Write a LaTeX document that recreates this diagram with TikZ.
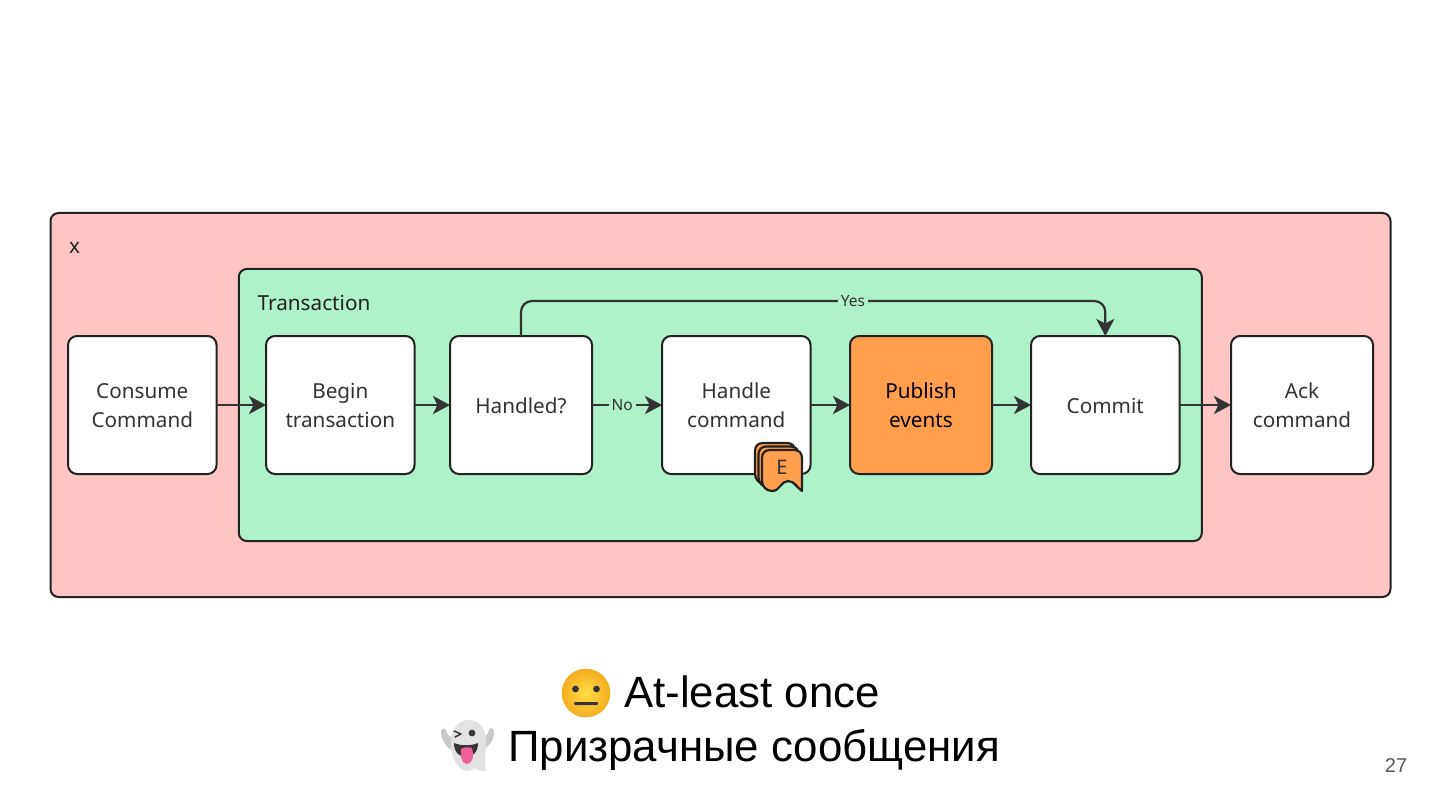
\documentclass[tikz,border=0pt]{standalone}
\usepackage{fontspec}
\setmainfont{Noto Sans}
\newfontfamily\slidefont{Liberation Sans}
\usetikzlibrary{arrows.meta,shadings}
\definecolor{ink}{HTML}{222222}
\definecolor{txt}{HTML}{333333}
\definecolor{pinkbg}{HTML}{FFC4C4}
\definecolor{greenbg}{HTML}{ADF2C8}
\definecolor{orangebg}{HTML}{FF9F4D}
\definecolor{linecol}{HTML}{333333}
\definecolor{faceIn}{HTML}{FFDD45}
\definecolor{faceOut}{HTML}{F4AE20}
\definecolor{ghostBody}{HTML}{E2E2E2}
\definecolor{ghostArm}{HTML}{C9C9C9}
\definecolor{ghostDark}{HTML}{3A3436}
\definecolor{tongue}{HTML}{F0609A}
\newcommand{\lin}{\rule[-4.6pt]{0pt}{25.5pt}}
\tikzset{
  container/.style={draw=ink,line width=2pt,rounded corners=8pt,anchor=north west,inner sep=0pt,outer sep=0pt},
  stepbox/.style={draw=ink,line width=2pt,rounded corners=9pt,fill=white,text=txt,align=center,
    font=\fontsize{20.7}{29}\selectfont,inner sep=0pt,outer sep=0pt,minimum height=138pt},
  wide/.style={minimum width=148.5pt},
  narrow/.style={minimum width=142pt},
  flow/.style={draw=linecol,line width=2.2pt,-{Stealth[length=17pt,width=18pt,inset=4.5pt]}},
  edgelabel/.style={fill=greenbg,text=txt,font=\fontsize{15.5}{18}\selectfont,inner sep=3pt},
  card/.style={draw=ink,line width=2.2pt,fill=orangebg,line join=round},
  grouplabel/.style={text=ink,font=\fontsize{20.7}{24}\selectfont,anchor=base west,inner sep=0pt},
  slide/.style={text=black,font=\slidefont\fontsize{43.8}{50}\selectfont,anchor=base west,inner sep=0pt},
}
\begin{document}
\begin{tikzpicture}[x=1pt,y=-1pt]
\useasboundingbox (0,0) rectangle (1440,810);
\fill[white] (0,0) rectangle (1440,810);

\node[container,fill=pinkbg,minimum width=1340pt,minimum height=384pt] (outer) at (50.5,213) {};
\node[container,fill=greenbg,minimum width=963pt,minimum height=272pt] (inner) at (238.8,269) {};
\node[grouplabel] (xlabel) at (69,254) {x};
\node[grouplabel] (txlabel) at (257.5,310) {Transaction};

\node[stepbox,wide] (consume) at (142.3,405) {\lin Consume\\\lin Command};
\node[stepbox,wide] (begin) at (340.3,405) {\lin Begin\\\lin transaction};
\node[stepbox,narrow] (handled) at (521,405) {\lin Handled?};
\node[stepbox,wide] (handle) at (736.3,405) {\lin Handle\\\lin command};
\node[stepbox,narrow,fill=orangebg,text=black] (publish) at (921,405) {\lin Publish\\\lin events};
\node[stepbox,wide] (commit) at (1105.3,405) {\lin Commit};
\node[stepbox,narrow] (ack) at (1302,405) {\lin Ack\\\lin command};

\draw[flow] (consume) -- (begin);
\draw[flow] (begin) -- (handled);
\draw[flow] (handled) -- node[edgelabel,pos=0.43] (nolabel) {No} (handle);
\draw[flow] (handle) -- (publish);
\draw[flow] (publish) -- (commit);
\draw[flow] (commit) -- (ack);
\draw[flow,rounded corners=11pt] (handled.north) -- ++(0,-35) -| node[edgelabel,pos=0.284] (yeslabel) {Yes} (commit.north);

% stacked event cards
\foreach \d in {7,3.5,0}{
  \path[card,shift={(-\d,-\d)}] (762,458)
    .. controls (762,453) and (765,450) .. (770,450)
    -- (794,450)
    .. controls (799,450) and (802,453) .. (802,458)
    -- (802,491)
    .. controls (797,488) and (795,481) .. (788,481)
    .. controls (781,481) and (780,491) .. (772,491)
    .. controls (766,491) and (762,486) .. (762,481)
    -- cycle;
}
\node[text=txt,font=\fontsize{20}{24}\selectfont,inner sep=0pt] (elabel) at (782,467) {E};

% neutral face emoji
\shade[inner color=faceIn,outer color=faceOut] (586,693) circle (24.3);
\fill[ghostDark] (575.5,689) circle (3.4) (596.5,689) circle (3.4);
\fill[ghostDark,rounded corners=1pt] (574,702) rectangle (598,705);
\node[slide] (line1) at (624,707) {At-least once};

% ghost emoji
\fill[ghostArm] (453,751) .. controls (447,748) and (441,740) .. (441,732)
  .. controls (441,729) and (444,727) .. (446,730)
  .. controls (447,734) and (449,737) .. (454,738) -- cycle;
\fill[ghostArm] (483,749) .. controls (489,747) and (494,740) .. (494,732)
  .. controls (494,728) and (491,727) .. (489,730)
  .. controls (488,734) and (486,737) .. (482,738) -- cycle;
\fill[ghostBody] (451,742) .. controls (451,728) and (459,720) .. (469,720)
  .. controls (480,720) and (486,729) .. (486,742)
  .. controls (486,752) and (484,762) .. (486,771)
  .. controls (480,772) and (477,769) .. (474,768)
  .. controls (470,772) and (466,772) .. (462,769)
  .. controls (455,765) and (451,756) .. (451,742) -- cycle;
\draw[ghostDark,line width=1.4pt,line cap=round,line join=round] (454,731) -- (461,734) -- (455,737);
\fill[ghostDark] (472,733) circle (3.4);
\fill[ghostDark] (454,743) .. controls (461,746) and (471,746) .. (478,743)
  .. controls (478,752) and (473,757) .. (466,757)
  .. controls (459,757) and (454,752) .. (454,743) -- cycle;
\fill[tongue] (461,749) .. controls (464,747) and (468,747) .. (472,748)
  .. controls (474,756) and (473,763) .. (467,764)
  .. controls (462,764) and (460,757) .. (461,749) -- cycle;
\node[slide] (line2) at (508,761) {Призрачные сообщения};

\node[text=black!65,font=\slidefont\fontsize{20}{24}\selectfont,inner sep=0pt] (page) at (1396,766) {27};
\end{tikzpicture}
\end{document}
